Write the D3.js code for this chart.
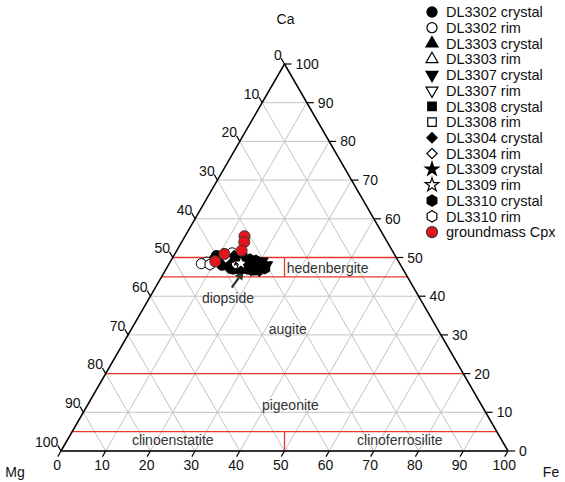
<!DOCTYPE html>
<html>
<head>
<meta charset="utf-8">
<script src="https://cdn.jsdelivr.net/npm/d3@7"></script>
<style>
  body { margin: 0; background: #fff; }
  text { font-family: "Liberation Sans", Arial, sans-serif; }
</style>
</head>
<body>
<svg id="chart" width="565" height="482"></svg>
<script>
// Pyroxene quadrilateral (Wo-En-Fs) in a Ca-Mg-Fe ternary.
// Every composition is [Ca, Mg, Fe] in percent.

const tickValues = [0, 10, 20, 30, 40, 50, 60, 70, 80, 90, 100];
const gridValues = [10, 20, 30, 40, 50, 60, 70, 80, 90];
const fieldBoundariesCa = [50, 45, 20, 5];

const seriesNames = [
  "DL3302 crystal", "DL3302 rim", "DL3303 crystal", "DL3303 rim",
  "DL3307 crystal", "DL3307 rim", "DL3308 crystal", "DL3308 rim",
  "DL3304 crystal", "DL3304 rim", "DL3309 crystal", "DL3309 rim",
  "DL3310 crystal", "DL3310 rim", "groundmass Cpx"
];
const seriesShapes = [
  "circle", "circle", "triangle", "triangle",
  "triangleDown", "triangleDown", "square", "square",
  "diamond", "diamond", "star", "star",
  "hexagon", "hexagon", "circle"
];
const seriesFills = [
  "#000", "#fff", "#000", "#fff",
  "#000", "#fff", "#000", "#fff",
  "#000", "#fff", "#000", "#fff",
  "#000", "#fff", "#e8141c"
];

const DL3302_crystal = [[48.5, 40, 11.5], [49, 38.5, 12.5], [48, 38, 14], [47.5, 37.5, 15], [49.5, 37, 13.5], [50.5, 40, 9.5], [51, 38, 11], [47, 38, 15], [48, 40, 12], [49.5, 41, 9.5]];
const DL3302_rim     = [[48.8, 43, 8.2], [48.4, 44.4, 7.2], [51.2, 36.1, 12.7]];
const DL3303_crystal = [[48, 36, 16], [47, 36, 17], [48.5, 34, 17.5], [47.5, 33, 19.5], [46.8, 35, 18.2], [47.2, 33.3, 19.5]];
const DL3303_rim     = [[47.5, 35, 17.5], [48, 37, 15]];
const DL3307_crystal = [[48.5, 32, 19.5], [47.5, 31, 21.5], [49, 30.5, 20.5], [48, 30, 22], [46.8, 32.2, 21]];
const DL3307_rim     = [[48, 33, 19], [47, 34, 19]];
const DL3308_crystal = [[48.8, 36.2, 15], [47.8, 35.2, 17], [49.2, 35, 15.8], [46.8, 34.2, 19], [47, 36.8, 16.2], [46.6, 33.4, 20]];
const DL3308_rim     = [[48.2, 36.8, 15]];
const DL3304_crystal = [[49.5, 39, 11.5], [50, 36.5, 13.5], [48.5, 39.5, 12], [47.2, 38.8, 14], [50.5, 36, 13.5], [51, 34, 15]];
const DL3304_rim     = [[49.8, 38.2, 12]];
const DL3309_crystal = [[49, 34, 17], [48, 33.5, 18.5], [47, 32.5, 20.5], [47.5, 35.5, 17], [49.5, 35.5, 15]];
const DL3309_rim     = [[48.5, 35.5, 16]];
const DL3310_crystal = [[49.5, 33, 17.5], [48.5, 31, 20.5], [47.8, 32.2, 20], [47.2, 30.8, 22], [49.2, 31.8, 19]];
const DL3310_rim     = [[48.2, 42.6, 9.2]];
const groundmass_Cpx = [[55.5, 31.2, 13.3], [54.0, 32.0, 14.0], [51.8, 33.7, 14.5], [50.9, 38.0, 11.1], [49.0, 41.0, 10.0]];

const seriesData = [
  DL3302_crystal, DL3302_rim, DL3303_crystal, DL3303_rim,
  DL3307_crystal, DL3307_rim, DL3308_crystal, DL3308_rim,
  DL3304_crystal, DL3304_rim, DL3309_crystal, DL3309_rim,
  DL3310_crystal, DL3310_rim, groundmass_Cpx
];

const regionLabels = [
  { text: "hedenbergite",     ca: 47.3, fe: 36.0 },
  { text: "diopside",         ca: 39.5, fe: 17.6 },
  { text: "augite",           ca: 31.5, fe: 35.0 },
  { text: "pigeonite",        ca: 12.0, fe: 45.3 },
  { text: "clinoenstatite",   ca: 2.8,  fe: 23.6 },
  { text: "clinoferrosilite", ca: 2.8,  fe: 74.4 }
];

const svg = d3.select("#chart");

// Base runs along Fe (Mg corner at left), height along Ca.
const xScale = d3.scaleLinear().domain([0, 100]).range([61, 508]);
const yScale = d3.scaleLinear().domain([0, 100]).range([451, 64]);
const px = (ca, fe) => [xScale(fe + ca / 2), yScale(ca)];

const line = d3.line();

// Grid
const grid = svg.append("g").attr("stroke", "#c4c4c4").attr("stroke-width", 1).attr("fill", "none");
gridValues.forEach(v => {
  grid.append("path").attr("d", line([px(v, 0), px(v, 100 - v)]));           // Ca = v
  grid.append("path").attr("d", line([px(0, v), px(100 - v, v)]));           // Fe = v
  grid.append("path").attr("d", line([px(0, 100 - v), px(100 - v, 0)]));     // Mg = v
});

// Pyroxene field boundaries
const fields = svg.append("g").attr("stroke", "#e8362e").attr("stroke-width", 1.3).attr("fill", "none");
fieldBoundariesCa.forEach(c => {
  fields.append("path").attr("d", line([px(c, 0), px(c, 100 - c)]));
});
fields.append("path").attr("d", line([px(45, 27.5), px(50, 25)]));
fields.append("path").attr("d", line([px(0, 50), px(5, 47.5)]));

// Triangle outline
const frame = svg.append("g").attr("fill", "none");
frame.append("path").attr("d", line([px(0, 0), px(100, 0)])).attr("stroke", "#000").attr("stroke-width", 1.5);
frame.append("path").attr("d", line([px(100, 0), px(0, 100)])).attr("stroke", "#000").attr("stroke-width", 1.5);
frame.append("path").attr("d", line([px(0, 0), px(0, 100)])).attr("stroke", "#333").attr("stroke-width", 2.2);

// Ticks and tick labels
const ticks = svg.append("g");
const tl = 6.5;
const c60 = 0.5, s60 = Math.sqrt(3) / 2;
tickValues.forEach(v => {
  // Left side: Mg, ticks extend the Mg grid lines outward
  const pL = px(100 - v, 0);
  const eL = [pL[0] - tl * c60, pL[1] - tl * s60];
  ticks.append("path").attr("d", line([pL, eL])).attr("stroke", "#000").attr("stroke-width", 1.2);
  ticks.append("text").attr("x", eL[0] + 0.5).attr("y", eL[1] + 1.5)
    .attr("text-anchor", "end").attr("font-size", 14).attr("fill", "#111").text(v);

  // Right side: Ca, horizontal ticks
  const pR = px(v, 100 - v);
  const eR = [pR[0] + 7, pR[1]];
  ticks.append("path").attr("d", line([pR, eR])).attr("stroke", "#000").attr("stroke-width", 1.2);
  ticks.append("text").attr("x", eR[0] + 4).attr("y", eR[1]).attr("dy", "0.36em")
    .attr("font-size", 14).attr("fill", "#111").text(v);

  // Bottom: Fe, ticks extend the Fe grid lines outward
  const pB = px(0, v);
  const eB = [pB[0] - tl * c60, pB[1] + tl * s60];
  ticks.append("path").attr("d", line([pB, eB])).attr("stroke", "#000").attr("stroke-width", 1.2);
  ticks.append("text").attr("x", eB[0] - 0.5).attr("y", 470)
    .attr("text-anchor", "middle").attr("font-size", 14).attr("fill", "#111").text(v);
});

// Corner labels
svg.append("text").attr("x", px(100, 0)[0] + 1).attr("y", 24).attr("text-anchor", "middle")
  .attr("font-size", 14).attr("fill", "#111").text("Ca");
svg.append("text").attr("x", 15).attr("y", 477).attr("text-anchor", "middle")
  .attr("font-size", 14).attr("fill", "#111").text("Mg");
svg.append("text").attr("x", 551).attr("y", 477).attr("text-anchor", "middle")
  .attr("font-size", 14).attr("fill", "#111").text("Fe");

// Field names
svg.append("g").selectAll("text").data(regionLabels).join("text")
  .attr("x", d => px(d.ca, d.fe)[0]).attr("y", d => px(d.ca, d.fe)[1]).attr("dy", "0.36em")
  .attr("text-anchor", "middle").attr("font-size", 14).attr("fill", "#333")
  .text(d => d.text);

// Arrow from "diopside" to the sample cluster
const arrowTail = px(42.2, 17.1), arrowTip = px(46.6, 17.6);
const adx = arrowTip[0] - arrowTail[0], ady = arrowTip[1] - arrowTail[1];
const alen = Math.hypot(adx, ady), ux = adx / alen, uy = ady / alen;
const headL = 9, headW = 4.5;
const base = [arrowTip[0] - ux * headL, arrowTip[1] - uy * headL];
svg.append("path").attr("d", line([arrowTail, base])).attr("stroke", "#333").attr("stroke-width", 2.2);
svg.append("path")
  .attr("d", line([arrowTip, [base[0] - uy * headW, base[1] + ux * headW], [base[0] + uy * headW, base[1] - ux * headW]]) + "Z")
  .attr("fill", "#333");

// Symbol shapes
const hexagon = {
  draw(ctx, size) {
    const r = Math.sqrt(size / (1.5 * Math.sqrt(3)));
    for (let i = 0; i < 6; i++) {
      const a = Math.PI / 2 + i * Math.PI / 3;
      const x = r * Math.cos(a), y = r * Math.sin(a);
      if (i === 0) ctx.moveTo(x, y); else ctx.lineTo(x, y);
    }
    ctx.closePath();
  }
};
const shapeTypes = {
  circle: [d3.symbolCircle, 80, 0],
  triangle: [d3.symbolTriangle, 62, 0],
  triangleDown: [d3.symbolTriangle, 62, 180],
  square: [d3.symbolSquare, 72, 0],
  diamond: [d3.symbolSquare, 52, 45],
  star: [d3.symbolStar, 58, 0],
  hexagon: [hexagon, 82, 0]
};
function symbolPath(shape, scale = 1) {
  const [type, size] = shapeTypes[shape];
  return d3.symbol().type(type).size(size * scale)();
}

// Data points
const pts = svg.append("g");
seriesData.forEach((data, i) => {
  const shape = seriesShapes[i];
  const isGroundmass = i === seriesData.length - 1;
  pts.append("g").selectAll("path").data(data).join("path")
    .attr("d", symbolPath(shape, isGroundmass ? 1.2 : 1))
    .attr("transform", d => {
      const [x, y] = px(d[0], d[2]);
      return `translate(${x},${y}) rotate(${shapeTypes[shape][2]})`;
    })
    .attr("fill", seriesFills[i])
    .attr("stroke", isGroundmass ? "#3a3a3a" : "#000")
    .attr("stroke-width", 1);
});

// Legend
const legend = svg.append("g");
seriesNames.forEach((name, i) => {
  const y = 12 + i * 15.72;
  const shape = seriesShapes[i];
  legend.append("path")
    .attr("d", symbolPath(shape, i === seriesNames.length - 1 ? 1.2 : 1))
    .attr("transform", `translate(432,${y}) rotate(${shapeTypes[shape][2]})`)
    .attr("fill", seriesFills[i])
    .attr("stroke", i === seriesNames.length - 1 ? "#3a3a3a" : "#000")
    .attr("stroke-width", 1.2);
  legend.append("text").attr("x", 446).attr("y", y).attr("dy", "0.36em")
    .attr("font-size", 14.5).attr("fill", "#111").text(name);
});
</script>
</body>
</html>
